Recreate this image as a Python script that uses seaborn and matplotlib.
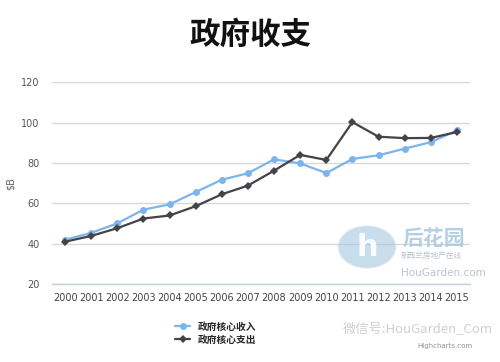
import matplotlib
matplotlib.use("Agg")
import matplotlib.pyplot as plt
import seaborn as sns
import pandas as pd
import numpy as np
from matplotlib.patches import Circle

years = [str(y) for y in range(2000, 2016)]
income = [42, 45.4, 50.1, 56.9, 59.5, 65.6, 71.7, 74.9, 81.8, 79.8, 75.0, 82.0, 83.8, 87.1, 90.3, 96.1]
spending = [41, 43.9, 47.7, 52.5, 54.0, 58.6, 64.5, 68.8, 76.2, 84.0, 81.5, 100.2, 93.0, 92.3, 92.4, 95.3]
series_names = ["政府核心收入", "政府核心支出"]
yticks = [20, 40, 60, 80, 100, 120]

sns.set_theme(style="white")
plt.rcParams['font.family'] = ['Noto Sans CJK SC', 'DejaVu Sans']

df = pd.DataFrame({"year": years * 2,
                   "value": income + spending,
                   "series": [series_names[0]] * len(years) + [series_names[1]] * len(years)})
df["x"] = list(range(len(years))) * 2

fig = plt.figure(figsize=(5, 3.62), dpi=100)
ax = fig.add_axes([0.104, 0.215, 0.836, 0.558])

# watermark logo (behind the lines)
circ = Circle((367 / 500, 1 - 247 / 362), 0.056, transform=fig.transFigure,
              facecolor="#9EC3DE", edgecolor="#C8D8E6", linewidth=2, alpha=0.55, zorder=0)
fig.patches.append(circ)
fig.text(367 / 500, 1 - 247 / 362, "h", ha="center", va="center", fontsize=22, fontweight="bold",
         color="white", alpha=0.9, family=['DejaVu Sans'])

colors = {series_names[0]: "#7CB5EC", series_names[1]: "#434348"}
markers = {series_names[0]: "o", series_names[1]: "D"}
sizes = {series_names[0]: 5, series_names[1]: 4}
for name in series_names:
    sub = df[df.series == name]
    sns.lineplot(data=sub, x="x", y="value", ax=ax, color=colors[name], marker=markers[name],
                 markersize=sizes[name], markeredgewidth=0, linewidth=1.6, label=name, legend=False)

ax.patch.set_alpha(0)
ax.set_xlim(-0.5, len(years) - 0.5)
ax.set_ylim(20, 120)
ax.set_yticks(yticks)
ax.set_yticklabels([str(t) for t in yticks], fontsize=7, color="#555555", family=['DejaVu Sans'])
ax.set_xticks(range(len(years)))
ax.set_xticklabels(years, fontsize=7, color="#444444", family=['DejaVu Sans'])
ax.tick_params(axis='x', length=0, pad=6)
ax.tick_params(axis='y', length=0, pad=9)
ax.set_xticks(np.arange(-0.5, len(years), 1), minor=True)
ax.tick_params(axis='x', which='minor', length=5, color="#C0D0E0", width=1, direction='out')
ax.grid(axis='y', color="#D8D8D8", linewidth=1)
ax.grid(axis='x', visible=False)
for s in ["top", "right", "left"]:
    ax.spines[s].set_visible(False)
ax.spines["bottom"].set_color("#C0D0E0")
ax.spines["bottom"].set_linewidth(1)
ax.set_xlabel("")
ax.set_ylabel("$B", fontsize=7, color="#666666", family=['DejaVu Sans'], labelpad=4)

fig.text(0.5, 0.905, "政府收支", ha="center", va="center", fontsize=22, fontweight="bold", color="#111111")

leg = fig.legend(loc="upper left", bbox_to_anchor=(0.34, 0.125), frameon=False,
                 prop={"size": 7, "weight": "bold", "family": ['Noto Sans CJK SC']},
                 handlelength=1.6, labelspacing=0.3, handletextpad=0.8, borderpad=0)

# watermark texts
fig.text(0.805, 1 - 238 / 362, "后花园", va="center", fontsize=15, fontweight="bold", color="#A8C8E0", alpha=0.85)
fig.text(0.802, 1 - 256 / 362, "新西兰房地产在线", va="center", fontsize=5.5, color="#A8B8C8", alpha=0.85)
fig.text(0.802, 1 - 273 / 362, "HouGarden.com", va="center", fontsize=7.5, color="#B0B8C0", alpha=0.85, family=['DejaVu Sans'])
fig.text(0.685, 1 - 330 / 362, "微信号:HouGarden_Com", va="center", fontsize=9.5, color="#C4C4C4",
         alpha=0.8, family=['Noto Sans CJK SC'])
fig.text(0.835, 1 - 346 / 362, "Highcharts.com", va="center", fontsize=5, color="#909090", family=['DejaVu Sans'])

fig.savefig("out.png", dpi=100, facecolor="white")
